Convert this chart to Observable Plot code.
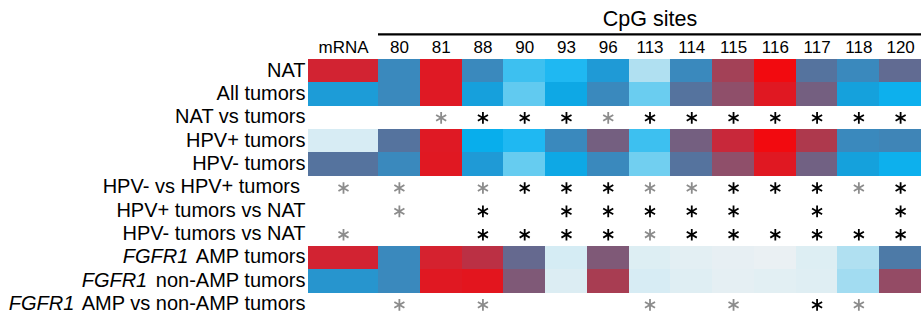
<!DOCTYPE html>
<html><head><meta charset="utf-8">
<script src="https://cdn.jsdelivr.net/npm/d3@7"></script>
<script src="https://cdn.jsdelivr.net/npm/@observablehq/plot@0.6"></script>
<style>html,body{margin:0;padding:0;background:#fff} svg{display:block}</style>
</head><body><div id="chart"></div>
<script>
// ---------------- data ----------------
const columns = ["mRNA","80","81","88","90","93","96","113","114","115","116","117","118","120"];
const groupTitle = "CpG sites";
const rowLabels = [
  "NAT","All tumors","NAT vs tumors","HPV+ tumors","HPV- tumors",
  "HPV- vs HPV+ tumors\u00a0","HPV+ tumors vs NAT","HPV- tumors vs NAT",
  "FGFR1 AMP tumors","FGFR1 non-AMP tumors","FGFR1 AMP vs non-AMP tumors"
];
// relative level (colour-map position) per cell
const natLevels       = [15.6,10,16.6,10,5,6,9,3,10,13.8,18,11,10,11.4];
const allTumorLevels  = [8.8,10,16.6,8.2,4.2,7.5,10,4,11,13,16.7,12,8.1,6.8];
const hpvPosLevels    = [1.8,11,16.6,7,6,10,12,5,12,15,18,14.2,10,10.2];
const hpvNegLevels    = [11,10,16.7,9,4.1,7.5,10,3.9,11,13,16.7,11.9,8.1,6.8];
const fgfrAmpLevels   = [15.6,10,15.8,14.6,11.5,2,12.4,1.2,0.6,0.3,0,1.2,3,10.7];
const fgfrNonAmpLevels= [9.3,10,16.7,17,12.4,1.3,14,1.8,1,0.5,0.7,1,3.2,13.2];
// significance: "b" = significant (black), "g" = grey asterisk, "" = none
const natVsTumors     = ["","","g","b","b","b","g","b","b","b","b","b","b","b"];
const hpvNegVsPos     = ["g","g","","g","b","b","b","g","g","b","b","b","g","b"];
const hpvPosVsNat     = ["","g","","b","","b","b","b","b","b","","b","","b"];
const hpvNegVsNat     = ["g","","","b","b","b","b","g","b","b","b","b","b","b"];
const ampVsNonAmp     = ["","g","","g","","","","g","","g","","b","g",""];
// colour map stops
const levelStops  = [0,1,2,3,4,5,6,7,8,9,10,11,12,13,14,15,16,17,18];
const levelColors = ["#eaf0f3","#dfeef3","#d5ecf4","#b0e0f1","#6acdf0","#3dc0f0","#1fb8f2","#08aeec",
                     "#14a2dd","#1f9ad6","#3a89bd","#55739e","#745f80","#8f4f6a","#a83d52","#c8283a",
                     "#d8202c","#e3151e","#f20a0f"];

// ---------------- layout ----------------
const mrnaSpan = 70 / 41.77;           // mRNA column is wider than CpG columns
const nCols = columns.length;
const x1 = i => i === 0 ? 0 : mrnaSpan + i - 1;
const x2 = i => i === 0 ? mrnaSpan : mrnaSpan + i;
const xc = i => (x1(i) + x2(i)) / 2;
const headerTop = -2.525;              // row units above the first row
const colLabelY = -0.5;
const ruleLineY = -1.075;
const titleY = -1.71;

const heatRows = [[0,natLevels],[1,allTumorLevels],[3,hpvPosLevels],[4,hpvNegLevels],[8,fgfrAmpLevels],[9,fgfrNonAmpLevels]];
const sigRows = [[2,natVsTumors],[5,hpvNegVsPos],[6,hpvPosVsNat],[7,hpvNegVsNat],[10,ampVsNonAmp]];
const cells = heatRows.flatMap(([row, vals]) => vals.map((value, col) => ({row, col, value})));
const sigs = sigRows.flatMap(([row, vals]) => vals.map((sig, col) => ({row, col, sig}))).filter(d => d.sig);

const font = "'Liberation Sans', Arial, Helvetica, sans-serif";

const chart = Plot.plot({
  width: 921, height: 321,
  marginLeft: 308, marginRight: 0, marginTop: 0, marginBottom: 5,
  x: {domain: [0, mrnaSpan + nCols - 1], axis: null},
  y: {domain: [headerTop, rowLabels.length], reverse: true, axis: null},
  color: {type: "linear", domain: levelStops, range: levelColors, interpolate: "rgb"},
  style: {fontFamily: font, background: "#fff", color: "#000"},
  marks: [
    Plot.rect(cells, {x1: d => x1(d.col), x2: d => x2(d.col), y1: d => d.row, y2: d => d.row + 1,
      fill: "value", shapeRendering: "crispEdges"}),
    Plot.dot(sigs.filter(d => d.sig === "b"), {x: d => xc(d.col), y: d => d.row + 0.5,
      symbol: "asterisk", r: 5.5, stroke: "#000", strokeWidth: 1.8}),
    Plot.dot(sigs.filter(d => d.sig === "g"), {x: d => xc(d.col), y: d => d.row + 0.5,
      symbol: "asterisk", r: 5.5, stroke: "#8c8c8c", strokeWidth: 1.8}),
    Plot.text(rowLabels, {x: () => 0, y: (d, i) => i + 0.5, text: d => d,
      textAnchor: "end", dx: -3, dy: -1, fontSize: 20, fill: "#000"}),
    Plot.text(columns, {x: (d, i) => xc(i), y: () => colLabelY, text: d => d, fontSize: 17, fill: "#000"}),
    Plot.ruleY([ruleLineY], {x1: () => mrnaSpan, x2: () => mrnaSpan + nCols - 1, stroke: "#000", strokeWidth: 2.4}),
    Plot.text([groupTitle], {x: () => mrnaSpan + (nCols - 1) / 2, y: () => titleY, text: d => d, fontSize: 21.5, fill: "#000"})
  ]
});

// italicise the gene name
chart.querySelectorAll("text").forEach(t => {
  const s = t.textContent;
  if (s.startsWith("FGFR1")) {
    const ns = "http://www.w3.org/2000/svg";
    t.textContent = "";
    const a = document.createElementNS(ns, "tspan");
    a.setAttribute("font-style", "italic");
    a.textContent = "FGFR1";
    const b = document.createElementNS(ns, "tspan");
    b.setAttribute("dx", "3");
    b.textContent = s.slice(5);
    t.appendChild(a); t.appendChild(b);
  }
});
document.getElementById("chart").appendChild(chart);
</script>
</body></html>
